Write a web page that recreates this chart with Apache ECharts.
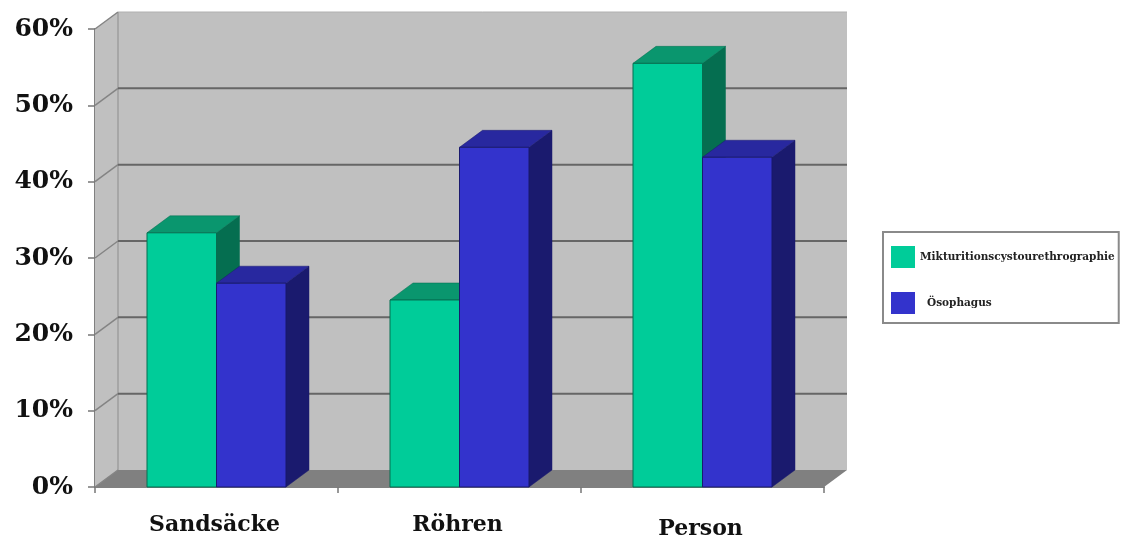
<!DOCTYPE html>
<html>
<head>
<meta charset="utf-8">
<style>html,body{margin:0;padding:0;background:#fff}#c{width:1121px;height:541px}</style>
<script src="https://cdn.jsdelivr.net/npm/echarts@6/dist/echarts.min.js"></script>
</head>
<body>
<div id="c"></div>
<script>
const categories = ['Sandsäcke', 'Röhren', 'Person'];
const yTicks = [0, 10, 20, 30, 40, 50, 60];
const miktion = [33.3, 24.5, 55.5];
const oesophagus = [26.7, 44.5, 43.2];
const seriesNames = ['Mikturitionscystourethrographie', 'Ösophagus'];

// Depth of the oblique projection, in pixels
const DX = 23, DY = 17;
const BAR_SHARE = 0.286;

const serif = '"DejaVu Serif", serif';

function poly(points, fill, stroke, lineWidth) {
  return { type: 'polygon', shape: { points }, style: { fill, stroke: stroke || null, lineWidth: lineWidth || 0 } };
}
function seg(x1, y1, x2, y2, stroke, lineWidth) {
  return { type: 'line', shape: { x1, y1, x2, y2 }, style: { stroke, lineWidth } };
}

// Side wall, back wall and floor behind the bars
function renderWalls(params, api) {
  const c = params.coordSys;
  const l = c.x, r = c.x + c.width, t = c.y, b = c.y + c.height;
  return {
    type: 'group',
    children: [
      poly([[l + DX, t - DY], [r + DX, t - DY], [r + DX, b - DY], [l + DX, b - DY]], '#c0c0c0'),
      poly([[l, t], [l + DX, t - DY], [l + DX, b - DY], [l, b]], '#c0c0c0'),
      poly([[l, b], [l + DX, b - DY], [r + DX, b - DY], [r, b]], '#808080'),
      seg(l + DX, t - DY, l + DX, b - DY, '#8c8c8c', 1),
      seg(l + DX, t - DY, r + DX, t - DY, '#b0b0b0', 1)
    ]
  };
}

// One gridline per tick, folded across the side wall and the back wall
function renderGrid(params, api) {
  const c = params.coordSys;
  const y = api.coord([0, api.value(0)])[1];
  const l = c.x, r = c.x + c.width;
  return {
    type: 'group',
    children: [
      seg(l, y, l + DX, y - DY, '#848484', 1.5),
      seg(l + DX, y - DY, r + DX, y - DY, api.value(0) === 60 || api.value(0) === 0 ? 'rgba(0,0,0,0)' : '#666666', 2)
    ]
  };
}

// Three visible faces of a bar; side selects left (-1) or right (0) half of the cluster
function barRenderer(side, front, top, edge) {
  return function (params, api) {
    const idx = api.value(0);
    const p = api.coord([idx, api.value(1)]);
    const base = api.coord([idx, 0]);
    const w = api.size([1, 0])[0] * BAR_SHARE;
    const x0 = p[0] + side * w, x1 = x0 + w, y = p[1], y0 = base[1];
    return {
      type: 'group',
      children: [
        poly([[x1, y], [x1 + DX, y - DY], [x1 + DX, y0 - DY], [x1, y0]], edge, edge, 0.5),
        poly([[x0, y], [x1, y], [x1 + DX, y - DY], [x0 + DX, y - DY]], top, edge, 0.5),
        poly([[x0, y], [x1, y], [x1, y0], [x0, y0]], front, edge, 1)
      ]
    };
  };
}

const chart = echarts.init(document.getElementById('c'));
chart.setOption({
  animation: false,
  backgroundColor: '#ffffff',
  grid: { left: 95, right: 297, top: 29, bottom: 54, outerBoundsMode: 'none' },
  xAxis: {
    type: 'category',
    data: [
      categories[0],
      categories[1],
      { value: categories[2], textStyle: { padding: [4, 4, 0, 0] } }
    ],
    axisLine: { show: true, lineStyle: { color: '#808080', width: 2 } },
    axisTick: { show: true, length: 6, lineStyle: { color: '#777777', width: 1.5 } },
    axisLabel: { margin: 27, padding: [0, 4, 0, 0], fontFamily: serif, fontWeight: 'bold', fontSize: 22, color: '#111111' }
  },
  yAxis: {
    type: 'value',
    min: 0,
    max: 60,
    interval: 10,
    splitLine: { show: false },
    axisLine: { show: true, lineStyle: { color: '#808080', width: 2 } },
    axisTick: { show: true, length: 7, lineStyle: { color: '#777777', width: 1.5 } },
    axisLabel: {
      margin: 22,
      fontFamily: serif,
      fontWeight: 'bold',
      fontSize: 25,
      color: '#111111',
      formatter: '{value}%'
    }
  },
  legend: {
    show: true,
    left: 883,
    top: 232,
    orient: 'vertical',
    align: 'left',
    padding: [14, 4, 9, 8],
    itemWidth: 24,
    itemHeight: 22,
    itemGap: 24,
    icon: 'rect',
    backgroundColor: '#ffffff',
    borderColor: '#8a8a8a',
    borderWidth: 2,
    textStyle: { fontFamily: serif, fontWeight: 'bold', fontSize: 10.5, color: '#222222' },
    data: [
      { name: seriesNames[0] },
      { name: seriesNames[1], textStyle: { padding: [0, 0, 0, 7] } }
    ]
  },
  series: [
    { type: 'custom', silent: true, z: 1, data: [[0]], renderItem: renderWalls },
    { type: 'custom', silent: true, z: 2, data: yTicks.map(v => [v]), encode: { y: 0 }, renderItem: renderGrid },
    {
      type: 'custom', name: seriesNames[0], z: 3,
      itemStyle: { color: '#00cc99' },
      data: miktion.map((v, i) => [i, v]),
      encode: { x: 0, y: 1 },
      renderItem: barRenderer(-1, '#00cc99', '#0a966e', '#056e50')
    },
    {
      type: 'custom', name: seriesNames[1], z: 4,
      itemStyle: { color: '#3333cc' },
      data: oesophagus.map((v, i) => [i, v]),
      encode: { x: 0, y: 1 },
      renderItem: barRenderer(0, '#3333cc', '#28289f', '#1a1a6e')
    }
  ]
});
</script>
</body>
</html>
